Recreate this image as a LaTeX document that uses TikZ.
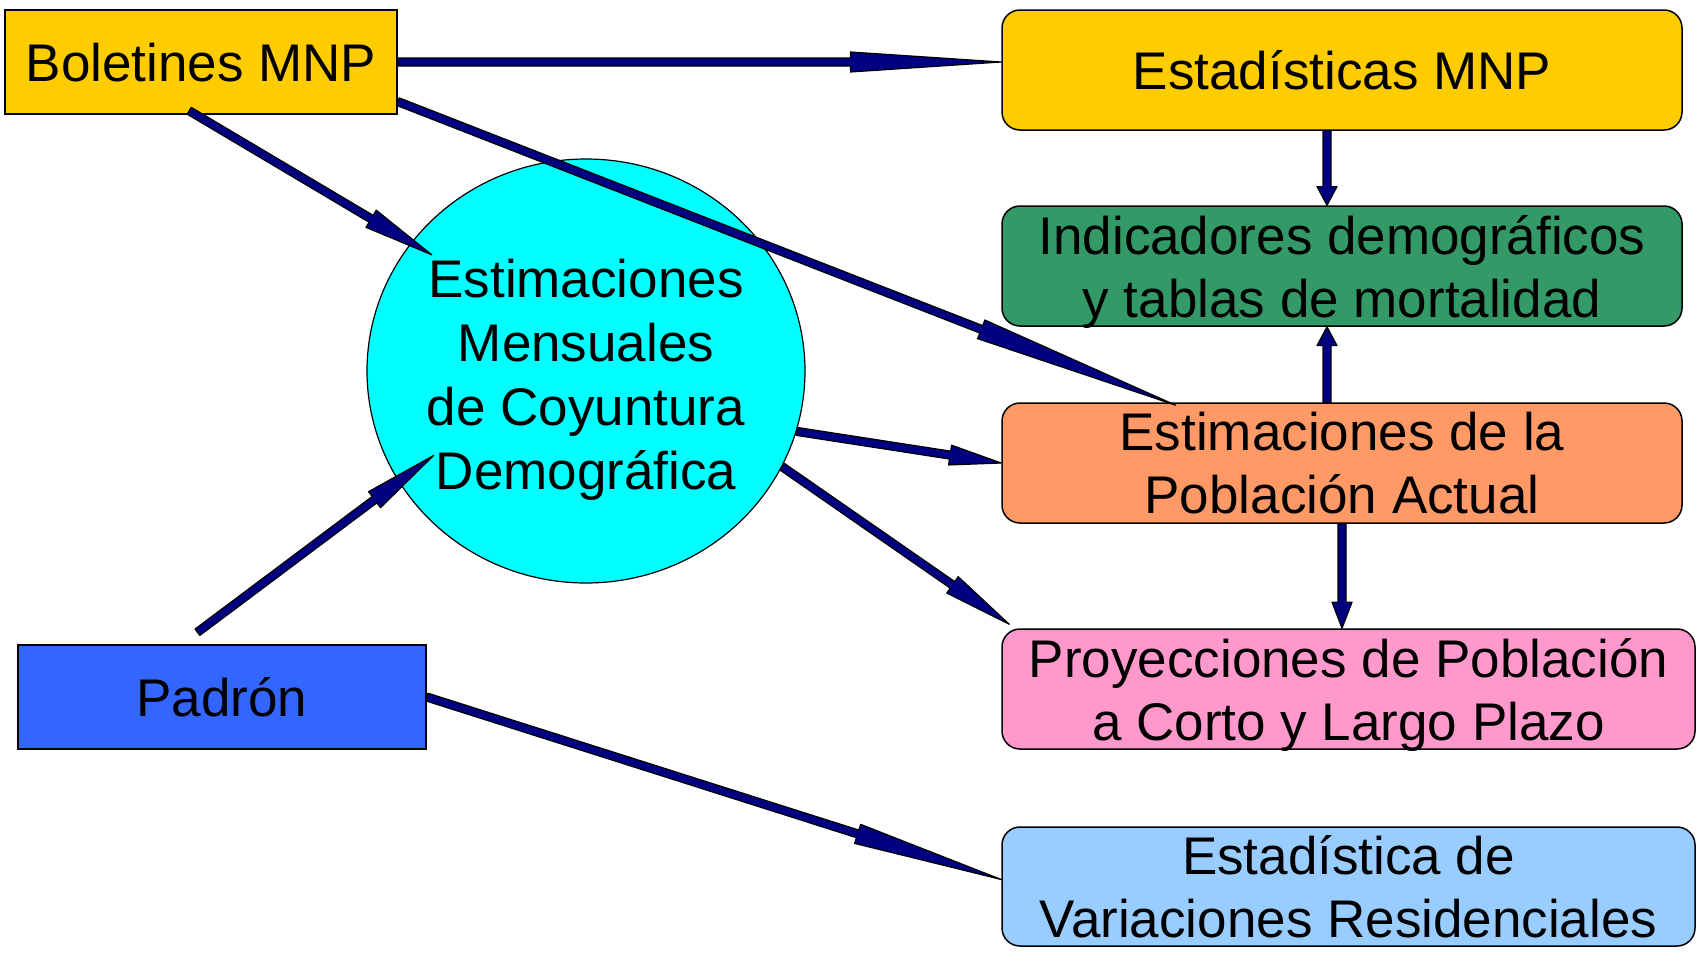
\documentclass[tikz,border=0pt]{standalone}
\usepackage{fontspec}
\setmainfont{Liberation Sans}
\usetikzlibrary{calc,shapes.geometric}
\definecolor{cgold}{HTML}{FFCC00}
\definecolor{cgreen}{HTML}{339966}
\definecolor{corange}{HTML}{FF9966}
\definecolor{cpink}{HTML}{FF99CC}
\definecolor{clblue}{HTML}{99CCFF}
\definecolor{cblue}{HTML}{3366FF}
\definecolor{ccyan}{HTML}{00FFFF}
\definecolor{cnavy}{HTML}{000080}
\tikzset{
  txt/.style={inner sep=0pt, align=center, text depth=0pt,
    font=\fontsize{53}{63}\selectfont},
  box/.style={txt, draw=black, line width=1.5pt},
  rbox/.style={box, rounded corners=18pt},
  fatarrowsty/.style={fill=cnavy, draw=black, line width=1.2pt, line join=round}
}
\newcommand\fatarrow[2]{%
  \path (#1) coordinate (fa-a) (#2) coordinate (fa-b);
  \path ($(fa-a)!0.75!(fa-b)$) coordinate (fa-h);
  \filldraw[fatarrowsty] ($(fa-a)!4pt!90:(fa-b)$) -- ($(fa-h)!4pt!90:(fa-b)$)
    -- ($(fa-h)!10pt!90:(fa-b)$) -- (fa-b) -- ($(fa-h)!10pt!-90:(fa-b)$)
    -- ($(fa-h)!4pt!-90:(fa-b)$) -- ($(fa-a)!4pt!-90:(fa-b)$) -- cycle;
}
\begin{document}
\begin{tikzpicture}[x=1pt,y=-1pt]
\useasboundingbox (0,0) rectangle (1697,953);
% nodes
\node[box, fill=cgold, minimum width=392pt, minimum height=104pt] (bol) at (201,62) {Boletines MNP};
\node[box, fill=cblue, minimum width=408pt, minimum height=104pt] (pad) at (222,697) {Padrón};
\node[ellipse, draw=black, line width=1.2pt, fill=ccyan, inner sep=0pt, minimum width=438pt, minimum height=424pt] (circ) at (586,371) {};
\node[txt, font=\fontsize{53}{64}\selectfont] (circtxt) at (586,374)
  {Estimaciones\\Mensuales\\de Coyuntura\\Demográfica};
\node[rbox, fill=cgold, minimum width=680pt, minimum height=120pt] (est) at (1342,70) {Estadísticas MNP};
\node[rbox, fill=cgreen, minimum width=680pt, minimum height=120pt] (ind) at (1342,266) {Indicadores demográficos\\y tablas de mortalidad};
\node[rbox, fill=corange, minimum width=680pt, minimum height=120pt] (pob) at (1342,463) {Estimaciones de la\\Población Actual};
\node[rbox, fill=cpink, minimum width=693pt, minimum height=120pt] (pro) at (1348.5,689) {Proyecciones de Población\\a Corto y Largo Plazo};
\node[rbox, fill=clblue, minimum width=693pt, minimum height=119pt] (var) at (1348.5,886.5) {Estadística de\\Variaciones Residenciales};
% connectors
\fatarrow{bol.east}{bol.east -| est.west}
\fatarrow{$(bol.south west)!0.47!(bol.south east)+(0,-4)$}{$(circ.center)!0.89!(circ.143)$}
\fatarrow{$(bol.east)!0.75!(bol.south east)$}{$(pob.north west)!0.256!(pob.north east)+(0,3)$}
\fatarrow{[xshift=-15pt]est.south}{[xshift=-15pt]ind.north}
\fatarrow{[xshift=-15pt]pob.north}{[xshift=-15pt]ind.south}
\fatarrow{pob.south}{pob.south |- pro.north}
\fatarrow{circ.-16}{pob.west}
\fatarrow{circ.-26}{$(pro.north west)+(8,-4)$}
\fatarrow{$(pad.north west)!0.44!(pad.north east)+(0,-12)$}{$(circ.center)!0.80!(circ.209)$}
\fatarrow{pad.east}{$(var.west)+(0,-7)$}
\end{tikzpicture}
\end{document}
